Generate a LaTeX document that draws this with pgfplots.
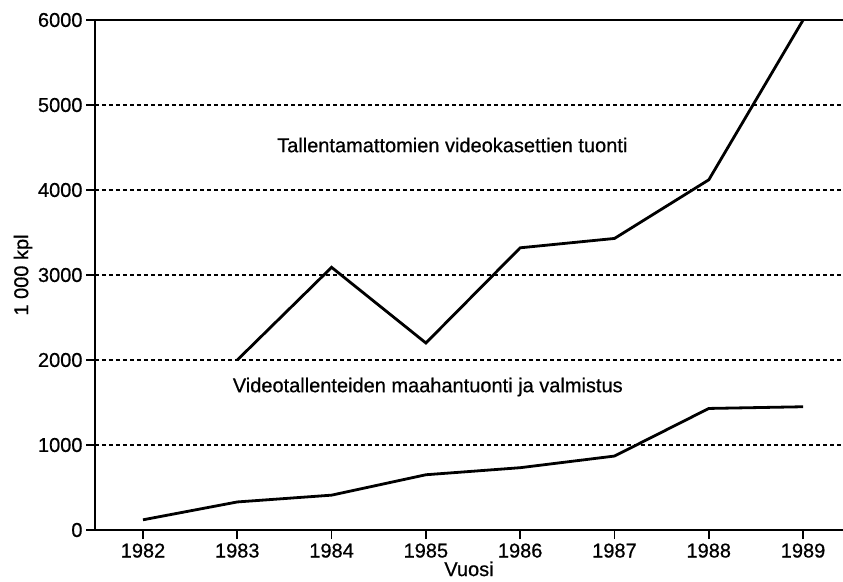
\documentclass[border=0pt]{standalone}
\usepackage{pgfplots}
\pgfplotsset{compat=1.18}
\usepackage{fontspec}
\setmainfont[FakeBold=0.6,AutoFakeBold=0.6]{Liberation Sans}
\newcommand\fs{\fontsize{20}{20}\selectfont\bfseries}
\begin{document}
\begin{tikzpicture}
\begin{axis}[
  at={(0,0)}, anchor=south west,
  scale only axis,
  width=748pt, height=510pt,
  xmin=1981.491, xmax=1989.423,
  ymin=0, ymax=6000,
  axis x line*=bottom, axis y line*=left,
  axis line style={-, line width=2.4pt},
  xtick={1982,...,1989},
  ytick={0,1000,...,5000},
  extra y ticks={6000},
  extra y tick style={grid style={solid, line width=2.4pt, black}},
  ymajorgrids,
  grid style={black, line width=1.6pt, dash pattern=on 4pt off 3pt},
  tick align=outside,
  major tick length=9pt,
  tick style={black, line width=1.6pt},
  x tick label style={font=\fs, yshift=-1pt},
  y tick label style={font=\fs},
  /pgf/number format/assume math mode=true,
  /pgf/number format/1000 sep={},
  xlabel={Vuosi},
  ylabel={1 000 kpl},
  label style={font=\fs},
  xlabel style={yshift=3pt},
  ylabel style={at={(axis description cs:0,0.5)}, anchor=center, yshift=72pt},
  clip=false,
]
\addplot[black, line width=2.8pt] coordinates {
  (1983,2000) (1984,3090) (1985,2200) (1986,3320) (1987,3430) (1988,4120) (1989,6000)
};
\addplot[black, line width=2.8pt] coordinates {
  (1982,120) (1983,330) (1984,410) (1985,650) (1986,733) (1987,870) (1988,1430) (1989,1450)
};
\node[font=\fs] at (axis cs:1985.28,4529) {Tallentamattomien videokasettien tuonti};
\node[font=\fs] at (axis cs:1985.02,1682) {Videotallenteiden maahantuonti ja valmistus};
\end{axis}
\pgfresetboundingbox
\path[use as bounding box] (-95pt,-51pt) rectangle (748pt,530pt);
\end{tikzpicture}
\end{document}
